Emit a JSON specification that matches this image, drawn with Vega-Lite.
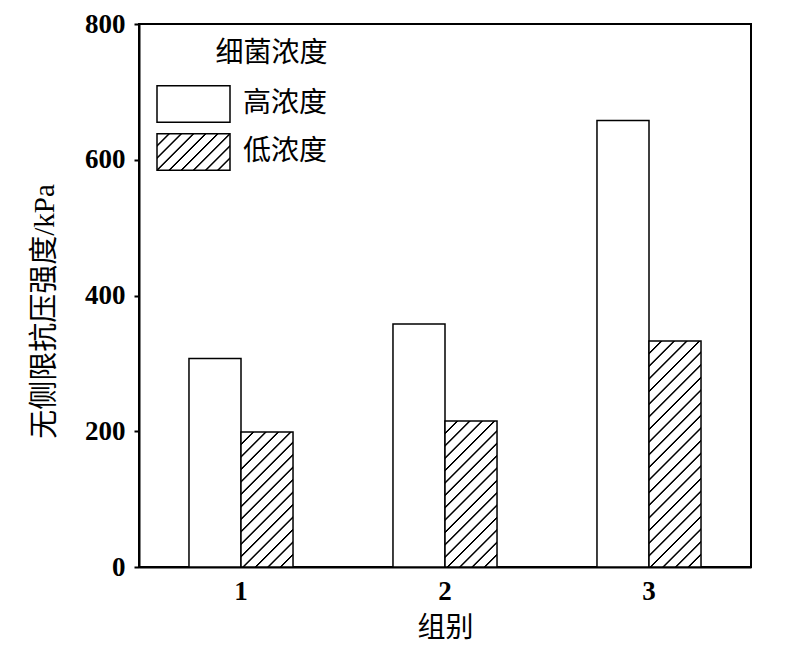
{
  "$schema": "https://vega.github.io/schema/vega-lite/v6.json",
  "autosize": {"type": "none"},
  "padding": {"left": 139, "top": 24, "right": 38, "bottom": 95},
  "width": 612,
  "height": 543,
  "background": "white",
  "config": {
    "font": "Liberation Serif, Noto Sans CJK SC",
    "view": {"stroke": "black", "strokeWidth": 2}
  },
  "data": {
    "values": [
      {"group": "1", "conc": "高浓度", "value": 307},
      {"group": "1", "conc": "低浓度", "value": 199},
      {"group": "2", "conc": "高浓度", "value": 358},
      {"group": "2", "conc": "低浓度", "value": 215},
      {"group": "3", "conc": "高浓度", "value": 658},
      {"group": "3", "conc": "低浓度", "value": 333}
    ]
  },
  "mark": {"type": "bar", "stroke": "black", "strokeWidth": 1.5},
  "encoding": {
    "x": {
      "field": "group", "type": "nominal",
      "scale": {"paddingInner": 0.49, "paddingOuter": 0.245},
      "axis": {
        "title": "组别", "labelAngle": 0, "ticks": false, "tickSize": 0,
        "domainColor": "black", "domainWidth": 2,
        "labelFont": "Liberation Serif", "labelFontSize": 27, "labelFontWeight": "bold", "labelColor": "black", "labelPadding": 11,
        "titleFont": "Liberation Serif, Noto Sans CJK SC", "titleFontSize": 28, "titleFontWeight": "normal", "titleColor": "black", "titlePadding": 10
      }
    },
    "xOffset": {"field": "conc", "type": "nominal", "scale": {"domain": ["高浓度", "低浓度"], "paddingInner": 0, "paddingOuter": 0}},
    "y": {
      "field": "value", "type": "quantitative",
      "scale": {"domain": [0, 800], "nice": false},
      "axis": {
        "title": "无侧限抗压强度/kPa", "values": [0, 200, 400, 600, 800], "grid": false,
        "tickSize": 5, "tickWidth": 2, "tickColor": "black", "domainColor": "black", "domainWidth": 2,
        "labelFont": "Liberation Serif", "labelFontSize": 27, "labelFontWeight": "bold", "labelColor": "black", "labelPadding": 9,
        "titleFont": "Liberation Serif, Noto Sans CJK SC", "titleFontSize": 29, "titleFontWeight": "normal", "titleColor": "black", "titlePadding": 25, "titleY": 287
      }
    },
    "fill": {
      "field": "conc", "type": "nominal",
      "scale": {"domain": ["高浓度", "低浓度"], "range": ["white", {"expr": "{gradient: 'linear', x1: 0, y1: 0, x2: 1.2, y2: 0.6, stops: [{offset: 0, color: 'white'}, {offset: 0.09741, color: 'white'}, {offset: 0.10563, color: 'black'}, {offset: 0.11659, color: 'black'}, {offset: 0.12481, color: 'white'}, {offset: 0.20852, color: 'white'}, {offset: 0.21674, color: 'black'}, {offset: 0.22770, color: 'black'}, {offset: 0.23592, color: 'white'}, {offset: 0.31963, color: 'white'}, {offset: 0.32785, color: 'black'}, {offset: 0.33881, color: 'black'}, {offset: 0.34703, color: 'white'}, {offset: 0.43074, color: 'white'}, {offset: 0.43896, color: 'black'}, {offset: 0.44992, color: 'black'}, {offset: 0.45814, color: 'white'}, {offset: 0.54186, color: 'white'}, {offset: 0.55008, color: 'black'}, {offset: 0.56104, color: 'black'}, {offset: 0.56926, color: 'white'}, {offset: 0.65297, color: 'white'}, {offset: 0.66119, color: 'black'}, {offset: 0.67215, color: 'black'}, {offset: 0.68037, color: 'white'}, {offset: 0.76408, color: 'white'}, {offset: 0.77230, color: 'black'}, {offset: 0.78326, color: 'black'}, {offset: 0.79148, color: 'white'}, {offset: 0.87519, color: 'white'}, {offset: 0.88341, color: 'black'}, {offset: 0.89437, color: 'black'}, {offset: 0.90259, color: 'white'}, {offset: 1, color: 'white'}]}"}]},
      "condition": [
        {"test": "datum.group === '1' && datum.conc === '低浓度'", "value": {"gradient": "linear", "x1": 0, "y1": 0, "x2": 0.4646, "y2": 1.2062, "stops": [
          {"offset": 0, "color": "white"},
          {"offset": 0.05865, "color": "white"}, {"offset": 0.06346, "color": "black"}, {"offset": 0.06988, "color": "black"}, {"offset": 0.07469, "color": "white"},
          {"offset": 0.12531, "color": "white"}, {"offset": 0.13012, "color": "black"}, {"offset": 0.13654, "color": "black"}, {"offset": 0.14135, "color": "white"},
          {"offset": 0.19198, "color": "white"}, {"offset": 0.19679, "color": "black"}, {"offset": 0.20321, "color": "black"}, {"offset": 0.20802, "color": "white"},
          {"offset": 0.25865, "color": "white"}, {"offset": 0.26346, "color": "black"}, {"offset": 0.26988, "color": "black"}, {"offset": 0.27469, "color": "white"},
          {"offset": 0.32531, "color": "white"}, {"offset": 0.33012, "color": "black"}, {"offset": 0.33654, "color": "black"}, {"offset": 0.34135, "color": "white"},
          {"offset": 0.39198, "color": "white"}, {"offset": 0.39679, "color": "black"}, {"offset": 0.40321, "color": "black"}, {"offset": 0.40802, "color": "white"},
          {"offset": 0.45865, "color": "white"}, {"offset": 0.46346, "color": "black"}, {"offset": 0.46988, "color": "black"}, {"offset": 0.47469, "color": "white"},
          {"offset": 0.52531, "color": "white"}, {"offset": 0.53012, "color": "black"}, {"offset": 0.53654, "color": "black"}, {"offset": 0.54135, "color": "white"},
          {"offset": 0.59198, "color": "white"}, {"offset": 0.59679, "color": "black"}, {"offset": 0.60321, "color": "black"}, {"offset": 0.60802, "color": "white"},
          {"offset": 0.65865, "color": "white"}, {"offset": 0.66346, "color": "black"}, {"offset": 0.66988, "color": "black"}, {"offset": 0.67469, "color": "white"},
          {"offset": 0.72531, "color": "white"}, {"offset": 0.73012, "color": "black"}, {"offset": 0.73654, "color": "black"}, {"offset": 0.74135, "color": "white"},
          {"offset": 0.79198, "color": "white"}, {"offset": 0.79679, "color": "black"}, {"offset": 0.80321, "color": "black"}, {"offset": 0.80802, "color": "white"},
          {"offset": 0.85865, "color": "white"}, {"offset": 0.86346, "color": "black"}, {"offset": 0.86988, "color": "black"}, {"offset": 0.87469, "color": "white"},
          {"offset": 0.92531, "color": "white"}, {"offset": 0.93012, "color": "black"}, {"offset": 0.93654, "color": "black"}, {"offset": 0.94135, "color": "white"},
          {"offset": 1, "color": "white"}
        ]}},
        {"test": "datum.group === '2' && datum.conc === '低浓度'", "value": {"gradient": "linear", "x1": 0, "y1": 0, "x2": 0.4290, "y2": 1.2035, "stops": [
          {"offset": 0, "color": "white"},
          {"offset": 0.05492, "color": "white"}, {"offset": 0.05947, "color": "black"}, {"offset": 0.06553, "color": "black"}, {"offset": 0.07008, "color": "white"},
          {"offset": 0.11742, "color": "white"}, {"offset": 0.12197, "color": "black"}, {"offset": 0.12803, "color": "black"}, {"offset": 0.13258, "color": "white"},
          {"offset": 0.17992, "color": "white"}, {"offset": 0.18447, "color": "black"}, {"offset": 0.19053, "color": "black"}, {"offset": 0.19508, "color": "white"},
          {"offset": 0.24242, "color": "white"}, {"offset": 0.24697, "color": "black"}, {"offset": 0.25303, "color": "black"}, {"offset": 0.25758, "color": "white"},
          {"offset": 0.30492, "color": "white"}, {"offset": 0.30947, "color": "black"}, {"offset": 0.31553, "color": "black"}, {"offset": 0.32008, "color": "white"},
          {"offset": 0.36742, "color": "white"}, {"offset": 0.37197, "color": "black"}, {"offset": 0.37803, "color": "black"}, {"offset": 0.38258, "color": "white"},
          {"offset": 0.42992, "color": "white"}, {"offset": 0.43447, "color": "black"}, {"offset": 0.44053, "color": "black"}, {"offset": 0.44508, "color": "white"},
          {"offset": 0.49242, "color": "white"}, {"offset": 0.49697, "color": "black"}, {"offset": 0.50303, "color": "black"}, {"offset": 0.50758, "color": "white"},
          {"offset": 0.55492, "color": "white"}, {"offset": 0.55947, "color": "black"}, {"offset": 0.56553, "color": "black"}, {"offset": 0.57008, "color": "white"},
          {"offset": 0.61742, "color": "white"}, {"offset": 0.62197, "color": "black"}, {"offset": 0.62803, "color": "black"}, {"offset": 0.63258, "color": "white"},
          {"offset": 0.67992, "color": "white"}, {"offset": 0.68447, "color": "black"}, {"offset": 0.69053, "color": "black"}, {"offset": 0.69508, "color": "white"},
          {"offset": 0.74242, "color": "white"}, {"offset": 0.74697, "color": "black"}, {"offset": 0.75303, "color": "black"}, {"offset": 0.75758, "color": "white"},
          {"offset": 0.80492, "color": "white"}, {"offset": 0.80947, "color": "black"}, {"offset": 0.81553, "color": "black"}, {"offset": 0.82008, "color": "white"},
          {"offset": 0.86742, "color": "white"}, {"offset": 0.87197, "color": "black"}, {"offset": 0.87803, "color": "black"}, {"offset": 0.88258, "color": "white"},
          {"offset": 0.92992, "color": "white"}, {"offset": 0.93447, "color": "black"}, {"offset": 0.94053, "color": "black"}, {"offset": 0.94508, "color": "white"},
          {"offset": 1, "color": "white"}
        ]}},
        {"test": "datum.group === '3' && datum.conc === '低浓度'", "value": {"gradient": "linear", "x1": 0, "y1": 0, "x2": 0.2689, "y2": 1.1683, "stops": [
          {"offset": 0, "color": "white"},
          {"offset": 0.04006, "color": "white"}, {"offset": 0.04329, "color": "black"}, {"offset": 0.04761, "color": "black"}, {"offset": 0.05084, "color": "white"},
          {"offset": 0.08552, "color": "white"}, {"offset": 0.08875, "color": "black"}, {"offset": 0.09307, "color": "black"}, {"offset": 0.09630, "color": "white"},
          {"offset": 0.13097, "color": "white"}, {"offset": 0.13420, "color": "black"}, {"offset": 0.13852, "color": "black"}, {"offset": 0.14175, "color": "white"},
          {"offset": 0.17643, "color": "white"}, {"offset": 0.17966, "color": "black"}, {"offset": 0.18398, "color": "black"}, {"offset": 0.18721, "color": "white"},
          {"offset": 0.22188, "color": "white"}, {"offset": 0.22511, "color": "black"}, {"offset": 0.22943, "color": "black"}, {"offset": 0.23266, "color": "white"},
          {"offset": 0.26734, "color": "white"}, {"offset": 0.27057, "color": "black"}, {"offset": 0.27489, "color": "black"}, {"offset": 0.27812, "color": "white"},
          {"offset": 0.31279, "color": "white"}, {"offset": 0.31602, "color": "black"}, {"offset": 0.32034, "color": "black"}, {"offset": 0.32357, "color": "white"},
          {"offset": 0.35825, "color": "white"}, {"offset": 0.36148, "color": "black"}, {"offset": 0.36580, "color": "black"}, {"offset": 0.36903, "color": "white"},
          {"offset": 0.40370, "color": "white"}, {"offset": 0.40693, "color": "black"}, {"offset": 0.41125, "color": "black"}, {"offset": 0.41448, "color": "white"},
          {"offset": 0.44916, "color": "white"}, {"offset": 0.45239, "color": "black"}, {"offset": 0.45671, "color": "black"}, {"offset": 0.45994, "color": "white"},
          {"offset": 0.49461, "color": "white"}, {"offset": 0.49784, "color": "black"}, {"offset": 0.50216, "color": "black"}, {"offset": 0.50539, "color": "white"},
          {"offset": 0.54006, "color": "white"}, {"offset": 0.54329, "color": "black"}, {"offset": 0.54761, "color": "black"}, {"offset": 0.55084, "color": "white"},
          {"offset": 0.58552, "color": "white"}, {"offset": 0.58875, "color": "black"}, {"offset": 0.59307, "color": "black"}, {"offset": 0.59630, "color": "white"},
          {"offset": 0.63097, "color": "white"}, {"offset": 0.63420, "color": "black"}, {"offset": 0.63852, "color": "black"}, {"offset": 0.64175, "color": "white"},
          {"offset": 0.67643, "color": "white"}, {"offset": 0.67966, "color": "black"}, {"offset": 0.68398, "color": "black"}, {"offset": 0.68721, "color": "white"},
          {"offset": 0.72188, "color": "white"}, {"offset": 0.72511, "color": "black"}, {"offset": 0.72943, "color": "black"}, {"offset": 0.73266, "color": "white"},
          {"offset": 0.76734, "color": "white"}, {"offset": 0.77057, "color": "black"}, {"offset": 0.77489, "color": "black"}, {"offset": 0.77812, "color": "white"},
          {"offset": 0.81279, "color": "white"}, {"offset": 0.81602, "color": "black"}, {"offset": 0.82034, "color": "black"}, {"offset": 0.82357, "color": "white"},
          {"offset": 0.85825, "color": "white"}, {"offset": 0.86148, "color": "black"}, {"offset": 0.86580, "color": "black"}, {"offset": 0.86903, "color": "white"},
          {"offset": 0.90370, "color": "white"}, {"offset": 0.90693, "color": "black"}, {"offset": 0.91125, "color": "black"}, {"offset": 0.91448, "color": "white"},
          {"offset": 0.94916, "color": "white"}, {"offset": 0.95239, "color": "black"}, {"offset": 0.95671, "color": "black"}, {"offset": 0.95994, "color": "white"},
          {"offset": 1, "color": "white"}
        ]}}
      ],
      "legend": {
        "title": "细菌浓度",
        "orient": "none", "legendX": 35.5, "legendY": 16,
        "padding": 0,
        "symbolType": "M-2,-1H2V1H-2Z", "symbolSize": 1332.25,
        "symbolStrokeColor": "black", "symbolStrokeWidth": 1.5, "symbolOpacity": 1,
        "labelFont": "Liberation Serif, Noto Sans CJK SC", "labelFontSize": 28, "labelColor": "black", "labelOffset": 30.5,
        "rowPadding": 4,
        "titleFont": "Liberation Serif, Noto Sans CJK SC", "titleFontSize": 28, "titleFontWeight": "normal", "titleColor": "black", "titleAnchor": "end", "titlePadding": 17
      }
    }
  }
}
